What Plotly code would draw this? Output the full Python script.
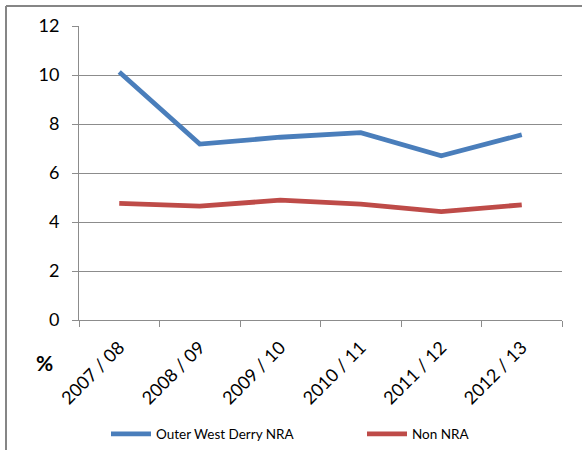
import plotly.graph_objects as go

categories = ["2007 / 08", "2008 / 09", "2009 / 10", "2010 / 11", "2011 / 12", "2012 / 13"]
outer_west_derry = [10.12, 7.18, 7.46, 7.65, 6.70, 7.56]
non_nra = [4.76, 4.65, 4.89, 4.73, 4.42, 4.70]
y_ticks = [0, 2, 4, 6, 8, 10, 12]

W, H = 582, 450
L, R, T, B = 79, 20, 26, 130
pw = W - L - R
ph = H - T - B

def px_x(x):
    return (x - L) / pw

def px_y(y):
    return (H - B - y) / ph

font_family = "Lato, 'Open Sans', sans-serif"
grid = "#8c8c8c"

fig = go.Figure()
fig.add_trace(go.Scatter(x=categories, y=outer_west_derry, mode="lines",
                         name="Outer West Derry NRA", legend="legend",
                         line=dict(color="#4a7ebb", width=4.8)))
fig.add_trace(go.Scatter(x=categories, y=non_nra, mode="lines",
                         name="Non NRA", legend="legend2",
                         line=dict(color="#be4b48", width=4.8)))

leg_common = dict(orientation="h", xanchor="left", yanchor="middle",
                  font=dict(size=13.5), bgcolor="rgba(0,0,0,0)",
                  itemwidth=40)

fig.update_layout(
    width=W, height=H,
    margin=dict(l=L, r=R, t=T, b=B, autoexpand=False),
    paper_bgcolor="white", plot_bgcolor="white",
    font=dict(family=font_family, size=18, color="#000000"),
    showlegend=True,
    legend=dict(x=px_x(106), y=px_y(434), **leg_common),
    legend2=dict(x=px_x(362), y=px_y(434), **leg_common),
    xaxis=dict(type="category", range=[-0.5, 5.5], tickson="boundaries",
               ticks="outside", ticklen=6, tickcolor=grid, tickwidth=1,
               showline=True, linecolor=grid, linewidth=1, automargin=False,
               showgrid=False, tickangle=-45, tickfont=dict(size=18),
               ticklabelstandoff=9),
    yaxis=dict(range=[0, 12], tickvals=y_ticks, ticks="outside", ticklen=6,
               tickcolor=grid, showline=True, linecolor=grid, linewidth=1,
               showgrid=True, gridcolor=grid, gridwidth=1, zeroline=False,
               automargin=False, tickfont=dict(size=18),
               ticklabelstandoff=9),
    shapes=[
        dict(type="line", xref="paper", yref="paper",
             x0=px_x(6), x1=px_x(6), y0=px_y(460), y1=px_y(6),
             line=dict(color="#868686", width=2)),
        dict(type="line", xref="paper", yref="paper",
             x0=px_x(6), x1=px_x(590), y0=px_y(6), y1=px_y(6),
             line=dict(color="#868686", width=2)),
    ],
    annotations=[
        dict(text="<b>%</b>", xref="paper", yref="paper",
             x=px_x(44), y=px_y(362), xanchor="center", yanchor="middle",
             showarrow=False, font=dict(size=21, family=font_family)),
    ],
)

fig.write_html("out.html", config={"displayModeBar": False},
               post_script="document.body.style.margin='0';document.body.style.overflow='hidden';")
